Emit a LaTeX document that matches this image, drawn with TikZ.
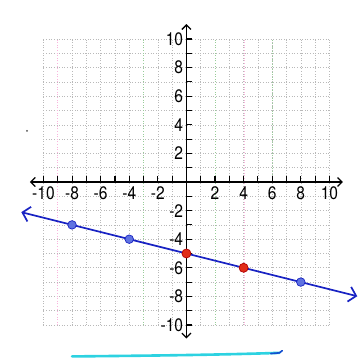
\documentclass[tikz,border=0pt]{standalone}
\usepackage{fontspec}
\setmainfont{TeX Gyre Heros}[FakeStretch=0.86]
\usetikzlibrary{arrows.meta}
\definecolor{lineblue}{RGB}{25,35,195}
\definecolor{ptblue}{RGB}{95,115,225}
\definecolor{ptred}{RGB}{225,45,25}
\definecolor{scancyan}{RGB}{45,210,225}
\begin{document}
\begin{tikzpicture}[x=0.5cm,y=0.5cm,
  gridline/.style={gray!55, dotted, line width=0.6pt},
  tintpink/.style={magenta!30, dotted, line width=0.6pt},
  tintgreen/.style={green!50!black!40, dotted, line width=0.6pt},
  axisline/.style={black, line width=1.3pt, {Straight Barb[length=4.5pt,width=9pt]}-{Straight Barb[length=4.5pt,width=9pt]}},
  tickmark/.style={black, line width=1.1pt},
  numlabel/.style={font=\fontsize{18}{20}\selectfont, inner sep=0pt},
  fitline/.style={lineblue, line width=1.7pt, {Straight Barb[length=7pt,width=15pt]}-{Straight Barb[length=7pt,width=15pt]}},
  bluept/.style={circle, fill=ptblue, draw=lineblue, line width=0.7pt, minimum size=8.5pt, inner sep=0pt},
  redpt/.style={circle, fill=ptred, draw=red!70!black, line width=0.7pt, minimum size=9pt, inner sep=0pt}
]
\useasboundingbox (-13.04,-12.31) rectangle (11.99,12.73);
% grid
\foreach \i in {-10,...,10} {
  \draw[gridline] (\i,-10) -- (\i,10);
  \draw[gridline] (-10,\i) -- (10,\i);
}
\draw[tintpink] (-9.02,-10) -- (-9.02,10);
\draw[tintpink] (4.02,-10) -- (4.02,10);
\draw[tintgreen] (-3.02,-10) -- (-3.02,10);
\draw[tintgreen] (2.02,-10) -- (2.02,10);
\draw[tintgreen] (6.02,0) -- (6.02,10);
% axes
\coordinate (xl) at (-10.95,0);
\coordinate (xr) at (10.95,0);
\coordinate (yb) at (0,-10.95);
\coordinate (yt) at (0,11.05);
\draw[axisline] (xl) -- (xr);
\draw[axisline] (yb) -- (yt);
\foreach \i in {-10,...,-1,1,2,...,10} {
  \draw[tickmark] (\i,0) -- (\i,0.42);
  \draw[tickmark] (0,\i) -- (0.42,\i);
}
\foreach \i in {-10,-8,-6,-4,-2,2,4,6,8,10} {
  \node[numlabel] (xlab\i) at (\i,-0.8) {\i};
  \node[numlabel, anchor=east] (ylab\i) at (-0.22,\i) {\i};
}
% stray dot
\node[circle, fill=black!70, inner sep=0pt, minimum size=2pt] (dot) at (-11.15,3.57) {};
% line and points
\coordinate (lstart) at (-11.55,-2.11);
\coordinate (lend) at (11.95,-7.99);
\draw[fitline] (lstart) -- (lend);
\node[bluept] (pa) at (-8,-3) {};
\node[bluept] (pb) at (-4,-4) {};
\node[bluept] (pc) at (8,-7) {};
\node[redpt] (pd) at (0,-5) {};
\node[redpt] (pe) at (4,-6) {};
% cyan stroke at bottom
\coordinate (cs) at (-8.0,-12.2);
\coordinate (ce) at (6.5,-11.95);
\draw[scancyan, line width=2.6pt, line cap=round] (cs) .. controls (-3,-12.15) and (2,-12.1) .. (ce);
\draw[lineblue!80!cyan, line width=1.6pt, line cap=round] (5.9,-12.0) -- (ce) -- (6.7,-11.8);
\end{tikzpicture}
\end{document}
